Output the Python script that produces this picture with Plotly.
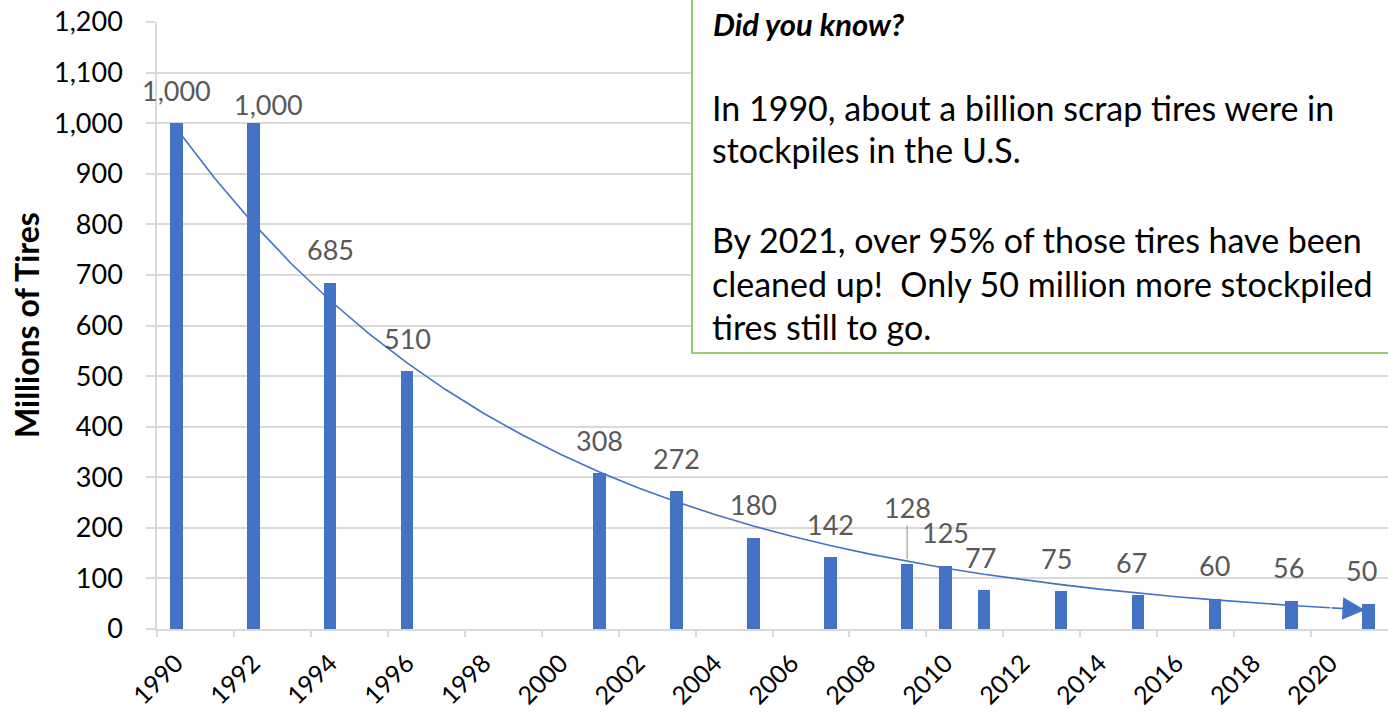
import numpy as np
import plotly.graph_objects as go

# ---- data ----
years = [1990, 1992, 1994, 1996, 2001, 2003, 2005, 2007, 2009, 2010, 2011, 2013, 2015, 2017, 2019, 2021]
tires_millions = [1000, 1000, 685, 510, 308, 272, 180, 142, 128, 125, 77, 75, 67, 60, 56, 50]
tick_labels = ["1990", "1992", "1994", "1996", "1998", "2000", "2002", "2004", "2006",
               "2008", "2010", "2012", "2014", "2016", "2018", "2020"]
y_title = "Millions of Tires"
box_title = "Did you know?"
box_lines = [
    "In 1990, about a billion scrap tires were in",
    "stockpiles in the U.S.",
    "By 2021, over 95% of those tires have been",
    "cleaned up!  Only 50 million more stockpiled",
    "tires still to go.",
]

BLUE = "#4472C4"
GRID = "#d9d9d9"
FONT = "Lato"

# exponential trendline fitted to the data (like Excel's exponential trendline)
b, a = np.polyfit(np.array(years, float), np.log(np.array(tires_millions, float)), 1)
trend_x = np.arange(years[0], years[-1] + 1)
trend_y = np.exp(a + b * trend_x)

fig = go.Figure()
fig.add_trace(go.Bar(x=years, y=tires_millions, width=0.33, marker_color=BLUE,
                     marker_line_width=0, showlegend=False, hoverinfo="x+y"))
fig.add_trace(go.Scatter(x=trend_x[:-1], y=trend_y[:-1], mode="lines",
                         line=dict(color=BLUE, width=1.6),
                         showlegend=False, hoverinfo="skip"))

annotations = []
# arrow head at the end of the trendline
annotations.append(dict(x=trend_x[-1] - 0.1, y=trend_y[-1], xref="x", yref="y",
                        ax=trend_x[-2], ay=trend_y[-2], axref="x", ayref="y",
                        showarrow=True, arrowhead=2, arrowsize=2.8, arrowwidth=1.6,
                        arrowcolor=BLUE, text=""))

# data labels
label_dx = {1992: 15, 2011: -4, 2013: -5, 2015: -6, 2019: -3, 2021: -7}
label_dy = {1992: -14}
LBL = dict(family=FONT, size=27, color="#595959")
for yr, v in zip(years, tires_millions):
    txt = f"{v:,}"
    if yr == 2009:
        annotations.append(dict(x=yr, y=v, xref="x", yref="y", text=txt, showarrow=True,
                                arrowhead=0, arrowwidth=1.3, arrowcolor="#a6a6a6", ax=0, ay=-57,
                                standoff=5, font=LBL))
    else:
        annotations.append(dict(x=yr, y=v, xref="x", yref="y", text=txt, showarrow=False,
                                yanchor="middle", xshift=label_dx.get(yr, 0),
                                yshift=33 + label_dy.get(yr, 0), font=LBL))

# y title
annotations.append(dict(x=-0.106, y=0.5, xref="paper", yref="paper", text=f"<b>{y_title}</b>",
                        textangle=-90, showarrow=False, xanchor="center", yanchor="middle",
                        font=dict(family=FONT, size=32, color="#000000")))

# text box (positions in pixels converted to paper coordinates)
L, T, H = 157, 22, 607


def py(p):
    return (T + H - p) / H


def px_x(p):
    return (p - L) / (1388 - L)


annotations.append(dict(x=px_x(711), y=py(24), xref="paper", yref="paper",
                        text=f"<b><i>{box_title}</i></b>", showarrow=False,
                        xanchor="left", yanchor="middle",
                        font=dict(family=FONT, size=31, color="#000000", weight=900)))
baselines = [117, 160, 250, 293, 336]
for line, bl in zip(box_lines, baselines):
    annotations.append(dict(x=px_x(710), y=py(bl - 10), xref="paper", yref="paper",
                            text=line, showarrow=False, xanchor="left", yanchor="middle",
                            font=dict(family=FONT, size=34, color="#000000")))

fig.add_shape(type="rect", xref="paper", yref="paper",
              x0=px_x(692), x1=1.02, y0=py(353), y1=1.1,
              line=dict(color="#7cbf52", width=1.6), fillcolor="white", layer="above")

fig.update_layout(
    width=1388, height=714,
    margin=dict(l=L, r=0, t=T, b=714 - T - H),
    paper_bgcolor="white", plot_bgcolor="white",
    annotations=annotations,
    bargap=0,
    xaxis=dict(range=[1989.5, 2021.5], automargin=False,
               tickvals=[int(t) - 0.5 for t in tick_labels], ticktext=tick_labels,
               ticklabelshift=19, tickangle=-45, ticklabelstandoff=2,
               ticks="outside", ticklen=6, tickcolor=GRID, tickwidth=1.5,
               showgrid=False, showline=True, linecolor=GRID, linewidth=1.5,
               zeroline=False, tickfont=dict(family=FONT, size=25, color="#000000")),
    yaxis=dict(range=[0, 1200], dtick=100, tickformat=",", automargin=False,
               ticks="outside", ticklen=9, tickcolor=GRID, tickwidth=1.5,
               ticklabelstandoff=18,
               showgrid=True, gridcolor=GRID, gridwidth=1.5,
               showline=True, linecolor=GRID, linewidth=1.5, zeroline=False,
               tickfont=dict(family=FONT, size=27, color="#000000")),
)

fig.write_html("out.html")
